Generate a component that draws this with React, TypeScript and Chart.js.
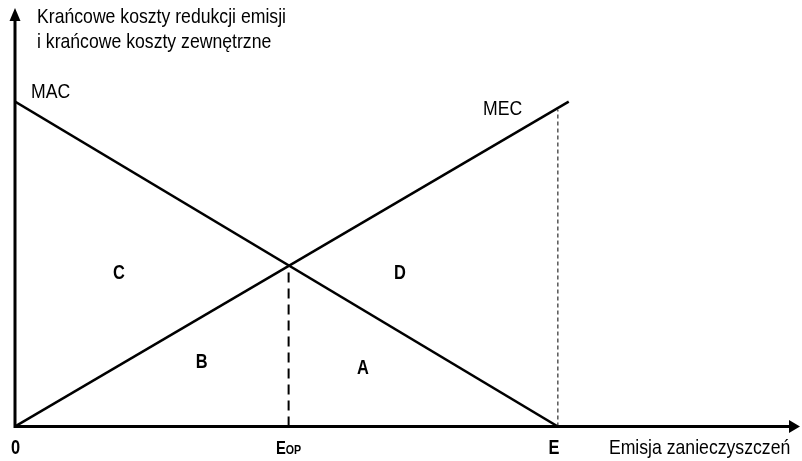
import React, { useEffect, useRef } from "react";
import { Chart, registerables } from "chart.js";

Chart.register(...registerables);

// ---- data ----
const macX = [0, 10];
const macY = [10, 0];
const mecX = [0, 10.2];
const mecY = [0, 10];
const eopX = [5.04, 5.04];
const eopY = [0, 4.95];
const eX = [10, 10];
const eY = [0, 9.75];
const xAxisMax = 14.46;
const yAxisMax = 12.88;

const titleLines = ["Krańcowe koszty redukcji emisji", "i krańcowe koszty zewnętrzne"];
const curveLabels = ["MAC", "MEC"];
const areaLabels = ["C", "D", "B", "A"];
const tickLabels = ["0", "E", "E"];
const xTitle = "Emisja zanieczyszczeń";

const FONT = "'Liberation Sans', Arial, sans-serif";

function pts(xs: number[], ys: number[]) {
  return xs.map((x, i) => ({ x, y: ys[i] }));
}

function measure(ctx: CanvasRenderingContext2D, text: string, size: number, bold: boolean, sq: number) {
  ctx.save();
  ctx.font = `${bold ? "bold " : ""}${size}px ${FONT}`;
  const w = ctx.measureText(text).width * sq;
  ctx.restore();
  return w;
}

function drawText(
  ctx: CanvasRenderingContext2D,
  text: string,
  px: number,
  py: number,
  size: number,
  bold: boolean,
  align: "left" | "center",
  baseline: CanvasTextBaseline,
  sq: number
) {
  ctx.save();
  ctx.font = `${bold ? "bold " : ""}${size}px ${FONT}`;
  ctx.fillStyle = "#000";
  ctx.textBaseline = baseline;
  ctx.textAlign = "left";
  const w = ctx.measureText(text).width * sq;
  const x0 = align === "center" ? px - w / 2 : px;
  ctx.translate(x0, py);
  ctx.scale(sq, 1);
  ctx.fillText(text, 0, 0);
  ctx.restore();
  return w;
}

const REG = 21;
const REG_SQ = 0.84;
const BOLD = 20;
const BOLD_SQ = 0.82;

const overlay = {
  id: "overlay",
  afterDatasetsDraw(chart: any) {
    const ctx: CanvasRenderingContext2D = chart.ctx;
    const xs = chart.scales.x;
    const ys = chart.scales.y;
    const X = (v: number) => xs.getPixelForValue(v);
    const Y = (v: number) => ys.getPixelForValue(v);

    // axes
    const ox = X(0);
    const oy = Y(0);
    const xt = X(xAxisMax);
    const yt = Y(yAxisMax);
    ctx.save();
    ctx.strokeStyle = "#000";
    ctx.fillStyle = "#000";
    ctx.lineWidth = 3;
    ctx.beginPath();
    ctx.moveTo(ox - 1.5, oy);
    ctx.lineTo(xt - 8, oy);
    ctx.moveTo(ox, oy + 1.5);
    ctx.lineTo(ox, yt + 10);
    ctx.stroke();
    ctx.beginPath();
    ctx.moveTo(xt, oy);
    ctx.lineTo(xt - 11, oy - 6.5);
    ctx.lineTo(xt - 11, oy + 6.5);
    ctx.closePath();
    ctx.fill();
    ctx.beginPath();
    ctx.moveTo(ox, yt);
    ctx.lineTo(ox - 5.5, yt + 13);
    ctx.lineTo(ox + 5.5, yt + 13);
    ctx.closePath();
    ctx.fill();
    ctx.restore();

    // axis title (y)
    drawText(ctx, titleLines[0], X(0.405), Y(12.42), REG, false, "left", "alphabetic", REG_SQ);
    drawText(ctx, titleLines[1], X(0.405), Y(11.65), REG, false, "left", "alphabetic", REG_SQ);
    // curve labels
    drawText(ctx, curveLabels[0], X(0.295), Y(10.1), REG, false, "left", "alphabetic", REG_SQ);
    drawText(ctx, curveLabels[1], X(8.62), Y(9.59), REG, false, "left", "alphabetic", REG_SQ);
    // area labels
    drawText(ctx, areaLabels[0], X(1.915), Y(4.7), BOLD, true, "center", "middle", BOLD_SQ);
    drawText(ctx, areaLabels[1], X(7.09), Y(4.7), BOLD, true, "center", "middle", BOLD_SQ);
    drawText(ctx, areaLabels[2], X(3.44), Y(1.955), BOLD, true, "center", "middle", BOLD_SQ);
    drawText(ctx, areaLabels[3], X(6.41), Y(1.8), BOLD, true, "center", "middle", BOLD_SQ);
    // tick labels
    const by = Y(-0.85);
    drawText(ctx, tickLabels[0], X(0.01), by, BOLD, true, "center", "alphabetic", BOLD_SQ);
    // E_OP
    const wE = measure(ctx, tickLabels[1], 18, true, BOLD_SQ);
    const wOP = measure(ctx, "OP", 13, true, BOLD_SQ);
    const ex0 = X(eopX[0]) - (wE + wOP) / 2;
    drawText(ctx, tickLabels[1], ex0, by, 18, true, "left", "alphabetic", BOLD_SQ);
    drawText(ctx, "OP", ex0 + wE, by, 13, true, "left", "alphabetic", BOLD_SQ);
    drawText(ctx, tickLabels[2], X(9.93), by, BOLD, true, "center", "alphabetic", BOLD_SQ);
    // x title
    drawText(ctx, xTitle, X(10.94), by, REG, false, "left", "alphabetic", REG_SQ);
  },
};

export default function App() {
  const ref = useRef<HTMLCanvasElement | null>(null);
  useEffect(() => {
    document.body.style.margin = "0";
    const canvas = ref.current;
    if (!canvas) return;
    const chart = new Chart(canvas, {
      type: "scatter",
      data: {
        datasets: [
          {
            label: "MAC",
            data: pts(macX, macY),
            showLine: true,
            borderColor: "#000",
            borderWidth: 2.5,
            pointRadius: 0,
          },
          {
            label: "MEC",
            data: pts(mecX, mecY),
            showLine: true,
            borderColor: "#000",
            borderWidth: 2.5,
            pointRadius: 0,
          },
          {
            label: "Eop",
            data: pts(eopX, eopY),
            showLine: true,
            borderColor: "#000",
            borderWidth: 2,
            borderDash: [10, 6],
            pointRadius: 0,
          },
          {
            label: "E",
            data: pts(eX, eY),
            showLine: true,
            borderColor: "#000",
            borderWidth: 1,
            borderDash: [4, 3],
            pointRadius: 0,
          },
        ],
      },
      options: {
        animation: false,
        responsive: false,
        layout: { padding: { left: 15, right: 2, top: 8, bottom: 34.5 } },
        plugins: { legend: { display: false }, tooltip: { enabled: false } },
        scales: {
          x: { type: "linear", min: 0, max: xAxisMax, display: false },
          y: { type: "linear", min: 0, max: yAxisMax, display: false },
        },
      },
      plugins: [overlay],
    });
    return () => chart.destroy();
  }, []);
  return (
    <div style={{ width: 802, height: 461, background: "#fff" }}>
      <canvas ref={ref} width={802} height={461} />
    </div>
  );
}
